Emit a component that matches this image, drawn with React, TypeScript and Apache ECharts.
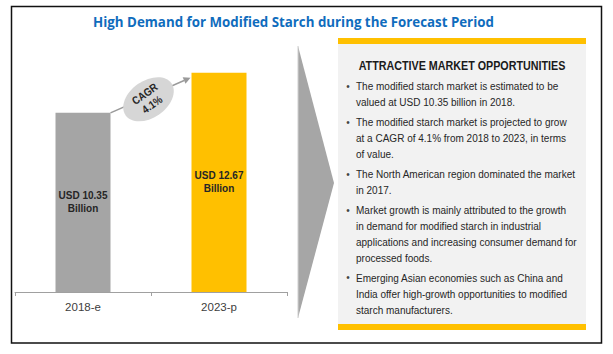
import React, { useEffect, useRef } from "react";
import * as echarts from "echarts";

const categories = ["2018-e", "2023-p"];
const marketValues = [10.35, 12.67];
const barColors = ["#A5A5A5", "#FFC000"];
const chartTitle = "High Demand for Modified Starch during the Forecast Period";
const cagrText = "CAGR\n4.1%";
const boxTitle = "ATTRACTIVE MARKET OPPORTUNITIES";
const bullets: string[][] = [
  ["The modified starch market is estimated to be", "valued at USD 10.35 billion in 2018."],
  ["The modified starch market is projected to grow", "at a CAGR of 4.1% from 2018 to 2023, in terms", "of value."],
  ["The North American region dominated the market", "in 2017."],
  [
    "Market growth is mainly attributed to the growth",
    "in demand for modified starch in industrial",
    "applications and increasing consumer demand for",
    "processed foods.",
  ],
  ["Emerging Asian economies such as China and", "India offer high-growth opportunities to modified", "starch manufacturers."],
];

const SANS = "'Liberation Sans', Arial, sans-serif";
const BAR_W = 55;

function measure(text: string, font: string): number {
  const c = document.createElement("canvas");
  const ctx = c.getContext("2d");
  if (!ctx) return text.length * 6;
  ctx.font = font;
  return ctx.measureText(text).width;
}

export default function App() {
  const ref = useRef<HTMLDivElement>(null);
  useEffect(() => {
    if (!ref.current) return;
    const chart = echarts.init(ref.current, undefined, { renderer: "svg" });
    chart.setOption({
      animation: false,
      backgroundColor: "#ffffff",
      grid: { left: 15, right: 326, top: 41, bottom: 62 },
      xAxis: {
        type: "category",
        data: categories,
        axisLine: { lineStyle: { color: "#A0A0A0", width: 1 } },
        axisTick: { show: true, length: 4, lineStyle: { color: "#A0A0A0" } },
        axisLabel: { color: "#404040", fontSize: 11.5, fontFamily: SANS, margin: 9 },
      },
      yAxis: { type: "value", min: 0, max: 14.5, show: false, splitLine: { show: false } },
      series: [
        {
          type: "bar",
          barWidth: BAR_W,
          data: marketValues.map((v, i) => ({ value: v, itemStyle: { color: barColors[i] } })),
          label: {
            show: true,
            position: "inside",
            formatter: (p: any) => `USD ${p.value.toFixed(2)}\nBillion`,
            color: "#262626",
            fontWeight: "bold",
            fontSize: 10,
            lineHeight: 13,
            fontFamily: SANS,
          },
        },
      ],
    });

    const p0 = chart.convertToPixel({ gridIndex: 0 }, [0, marketValues[0]]) as number[];
    const p1 = chart.convertToPixel({ gridIndex: 0 }, [1, marketValues[1]]) as number[];
    const sx = p0[0] + BAR_W / 2;
    const sy = p0[1];
    const ex = p1[0] - BAR_W / 2 - 1;
    const ey = p1[1] + 5;
    const ang = Math.atan2(ey - sy, ex - sx);
    const ah = 7;
    const aw = 3.5;
    const bx = ex - ah * Math.cos(ang);
    const by = ey - ah * Math.sin(ang);
    const nx = -Math.sin(ang);
    const ny = Math.cos(ang);
    const cx = (sx + ex) / 2 - 2;
    const cy = (sy + ey) / 2 + 4;

    const titleFont = "bold 14px 'Open Sans', sans-serif";
    const titleScale = 401 / measure(chartTitle, titleFont);
    const boxTitleFont = `bold 13px ${SANS}`;
    const boxTitleScale = 207 / measure(boxTitle, boxTitleFont);
    const bodyFont = `11.5px ${SANS}`;
    const bodyScale = 221 / measure("applications and increasing consumer demand for", bodyFont);

    const graphic: any[] = [];
    graphic.push({
      type: "rect",
      shape: { x: 11.5, y: 6.5, width: 590, height: 336.5 },
      style: { fill: "none", stroke: "#111", lineWidth: 1.5 },
      z: 100,
    });
    graphic.push({
      type: "text",
      x: 293.5,
      y: 21,
      scaleX: titleScale,
      style: { text: chartTitle, fill: "#0F6CBD", font: titleFont, align: "center", verticalAlign: "middle" },
    });
    graphic.push({
      type: "line",
      shape: { x1: sx, y1: sy, x2: bx, y2: by },
      style: { stroke: "#9A9A9A", lineWidth: 1.5 },
    });
    graphic.push({
      type: "polygon",
      shape: {
        points: [
          [ex, ey],
          [bx + nx * aw, by + ny * aw],
          [bx - nx * aw, by - ny * aw],
        ],
      },
      style: { fill: "#9A9A9A" },
    });
    graphic.push({
      type: "group",
      x: cx,
      y: cy,
      rotation: (35 * Math.PI) / 180,
      children: [
        { type: "ellipse", shape: { cx: 0, cy: 0, rx: 28, ry: 18.5 }, style: { fill: "#D6D6D6" } },
        {
          type: "text",
          x: 0,
          y: 0,
          scaleX: 0.88,
          style: {
            text: cagrText,
            fill: "#262626",
            font: `bold 11px ${SANS}`,
            lineHeight: 13,
            align: "center",
            verticalAlign: "middle",
          },
        },
      ],
    });
    graphic.push({
      type: "polygon",
      shape: { points: [[298, 46], [334, 183], [298, 318]] },
      style: { fill: "#A6A6A6" },
    });
    graphic.push({
      type: "line",
      shape: { x1: 298, y1: 46, x2: 298, y2: 318 },
      style: { stroke: "#CFCFCF", lineWidth: 1 },
    });
    graphic.push({ type: "rect", shape: { x: 338, y: 44, width: 248, height: 280 }, style: { fill: "#F2F2F2" } });
    graphic.push({ type: "rect", shape: { x: 338, y: 38, width: 248, height: 6 }, style: { fill: "#FFC000" } });
    graphic.push({ type: "rect", shape: { x: 338, y: 324, width: 248, height: 6 }, style: { fill: "#FFC000" } });
    graphic.push({
      type: "text",
      x: 462,
      y: 66,
      scaleX: boxTitleScale,
      style: { text: boxTitle, fill: "#1A1A1A", font: boxTitleFont, align: "center", verticalAlign: "middle" },
    });
    const lineH = 15.8;
    const gap = 4.5;
    let y = 86;
    bullets.forEach((lines) => {
      graphic.push({
        type: "text",
        x: 348,
        y,
        style: { text: "•", fill: "#444", font: `10px ${SANS}`, align: "center", verticalAlign: "middle" },
      });
      lines.forEach((ln) => {
        graphic.push({
          type: "text",
          x: 356,
          y,
          scaleX: bodyScale,
          style: { text: ln, fill: "#262626", font: bodyFont, align: "left", verticalAlign: "middle" },
        });
        y += lineH;
      });
      y += gap;
    });
    chart.setOption({ graphic });
    return () => chart.dispose();
  }, []);
  return <div ref={ref} style={{ position: "absolute", left: 0, top: 0, width: 613, height: 354 }} />;
}
